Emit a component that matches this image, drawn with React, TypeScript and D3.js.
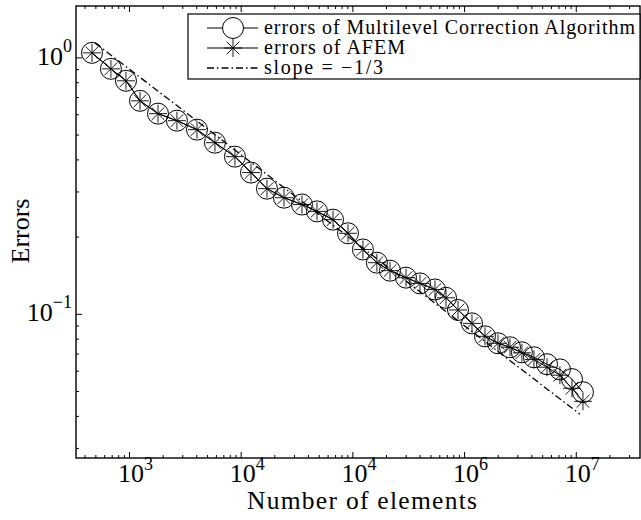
import React from "react";
import * as d3 from "d3";

// number of elements (shared by both series)
const elements = [
  462, 682, 930, 1242, 1800, 2660, 4020, 5820, 8790, 12240, 17020, 24150, 35000, 47700, 66400, 90400, 123000,
  164000, 215000, 299000, 399000, 543000, 682000, 873000, 1165000, 1523000, 1990000, 2550000, 3260000, 4180000,
  5470000, 7140000, 9150000, 11480000,
];

const mlcErrors = [
  1.046, 0.906, 0.814, 0.68, 0.606, 0.569, 0.525, 0.467, 0.412, 0.357, 0.309, 0.285, 0.268, 0.252, 0.234, 0.207,
  0.179, 0.159, 0.148, 0.139, 0.132, 0.125, 0.116, 0.104, 0.0922, 0.0821, 0.0771, 0.0744, 0.0711, 0.068, 0.0639,
  0.061, 0.0559, 0.0497,
];

const afemErrors = [
  1.046, 0.906, 0.814, 0.68, 0.606, 0.569, 0.525, 0.467, 0.412, 0.357, 0.309, 0.285, 0.268, 0.252, 0.234, 0.207,
  0.179, 0.159, 0.148, 0.139, 0.132, 0.125, 0.116, 0.104, 0.0922, 0.0821, 0.0771, 0.0744, 0.0708, 0.0667, 0.0622,
  0.0579, 0.0515, 0.0458,
];

// reference line, slope = -1/3
const slopeN = [491, 10790000];
const slopeErr = [1.144, 0.0408];

const xTickValues = [1e3, 1e4, 1e5, 1e6, 1e7];
const xTickExp = ["3", "4", "4", "6", "7"];
const yTickValues = [1, 0.1];
const yTickExp = ["0", "\u22121"];

const legendLabels = ["errors of Multilevel Correction Algorithm", "errors of AFEM", "slope = \u22121/3"];
const legendWidths = [371, 141, 119];

const W = 641;
const H = 520;
const plot = { left: 76, right: 640, top: 6, bottom: 458 };
const FONT = "'Liberation Serif', 'DejaVu Serif', serif";

function Star({ x, y, r }: { x: number; y: number; r: number }) {
  const d = r * Math.SQRT1_2;
  return (
    <g stroke="#000" strokeWidth={0.9}>
      <line x1={x - r} y1={y} x2={x + r} y2={y} />
      <line x1={x} y1={y - r} x2={x} y2={y + r} />
      <line x1={x - d} y1={y - d} x2={x + d} y2={y + d} />
      <line x1={x - d} y1={y + d} x2={x + d} y2={y - d} />
    </g>
  );
}

export default function App() {
  const x = d3.scaleLog().domain([332, 3.72e7]).range([plot.left, plot.right]);
  const y = d3.scaleLog().domain([1.593, 0.02753]).range([plot.top, plot.bottom]);

  const [x0, x1] = x.domain();
  const [y1, y0] = y.domain();
  const xMinor: number[] = [];
  for (let e = 2; e <= 7; e++) for (let m = 2; m <= 9; m++) {
    const v = m * Math.pow(10, e);
    if (v > x0 && v < x1) xMinor.push(v);
  }
  const yMinor: number[] = [];
  for (let e = -2; e <= 0; e++) for (let m = 2; m <= 9; m++) {
    const v = m * Math.pow(10, e);
    if (v > y0 && v < y1) yMinor.push(v);
  }

  const line = d3
    .line<number>()
    .x((_, i) => x(elements[i]))
    .y((d) => y(d));

  const slopeLine = d3
    .line<number>()
    .x((_, i) => x(slopeN[i]))
    .y((d) => y(d));

  const lg = { x: 188, y: 14, w: 452, h: 65 };
  const rowY = [28, 48, 68];

  return (
    <svg width={W} height={H} style={{ position: "absolute", left: 0, top: 0, background: "#fff" }} fontFamily={FONT}>
      {/* ticks */}
      <g stroke="#000" strokeWidth={1}>
        {xTickValues.map((v) => (
          <g key={"xt" + v}>
            <line x1={x(v)} x2={x(v)} y1={plot.bottom} y2={plot.bottom - 6} />
            <line x1={x(v)} x2={x(v)} y1={plot.top} y2={plot.top + 6} />
          </g>
        ))}
        {xMinor.map((v) => (
          <g key={"xm" + v}>
            <line x1={x(v)} x2={x(v)} y1={plot.bottom} y2={plot.bottom - 3} />
            <line x1={x(v)} x2={x(v)} y1={plot.top} y2={plot.top + 3} />
          </g>
        ))}
        {yTickValues.map((v) => (
          <line key={"yt" + v} x1={plot.left} x2={plot.left + 6} y1={y(v)} y2={y(v)} />
        ))}
        {yMinor.map((v) => (
          <line key={"ym" + v} x1={plot.left} x2={plot.left + 3} y1={y(v)} y2={y(v)} />
        ))}
      </g>

      {/* slope line */}
      <path d={slopeLine(slopeErr) || ""} fill="none" stroke="#000" strokeWidth={1.3} strokeDasharray="7,3,1.5,3" />

      {/* MLC series */}
      <path d={line(mlcErrors) || ""} fill="none" stroke="#000" strokeWidth={1} />
      {mlcErrors.map((v, i) => (
        <circle key={"c" + i} cx={x(elements[i])} cy={y(v)} r={10.5} fill="none" stroke="#000" strokeWidth={1} />
      ))}

      {/* AFEM series */}
      <path d={line(afemErrors) || ""} fill="none" stroke="#000" strokeWidth={1} />
      {afemErrors.map((v, i) => (
        <Star key={"s" + i} x={x(elements[i])} y={y(v)} r={9} />
      ))}

      {/* frame */}
      <rect
        x={plot.left}
        y={plot.top}
        width={plot.right - plot.left}
        height={plot.bottom - plot.top}
        fill="none"
        stroke="#000"
        strokeWidth={1.4}
      />

      {/* x tick labels */}
      {xTickValues.map((v, i) => (
        <text key={"xl" + v} x={x(v) - 11.5} y={482} fontSize={26}>
          10
          <tspan dy={-12} fontSize={18}>
            {xTickExp[i]}
          </tspan>
        </text>
      ))}

      {/* y tick labels */}
      {yTickValues.map((v, i) => (
        <text key={"yl" + v} x={72} y={y(v) + 7} fontSize={26} textAnchor="end">
          10
          <tspan dy={-13} fontSize={18}>
            {yTickExp[i]}
          </tspan>
        </text>
      ))}

      {/* axis titles */}
      <text x={(plot.left + plot.right) / 2 + 4} y={509} fontSize={25.5} textAnchor="middle" textLength={230}>
        Number of elements
      </text>
      <text transform={`translate(29,231) rotate(-90)`} fontSize={26} textAnchor="middle">
        Errors
      </text>

      {/* legend */}
      <rect x={lg.x} y={lg.y} width={lg.w} height={lg.h} fill="#fff" stroke="#000" strokeWidth={1.2} />
      <line x1={207} x2={258} y1={rowY[0]} y2={rowY[0]} stroke="#000" />
      <circle cx={233} cy={rowY[0]} r={10.5} fill="#fff" stroke="#000" />
      <line x1={207} x2={258} y1={rowY[1]} y2={rowY[1]} stroke="#000" />
      <Star x={233} y={rowY[1]} r={9} />
      <line x1={207} x2={258} y1={rowY[2]} y2={rowY[2]} stroke="#000" strokeWidth={1.3} strokeDasharray="7,3,1.5,3" />
      {legendLabels.map((t, i) => (
        <text key={t} x={264} y={rowY[i] + 6} fontSize={20} textLength={legendWidths[i]}>
          {t}
        </text>
      ))}
    </svg>
  );
}
